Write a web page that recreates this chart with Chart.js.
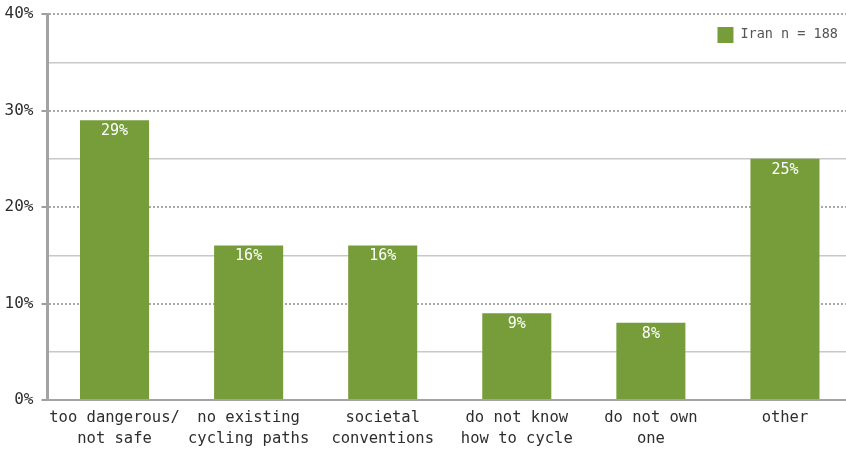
<!DOCTYPE html>
<html lang="en">
<head>
  <meta charset="UTF-8">
  <title>Reasons for not cycling - Iran</title>
  <script src="https://cdn.jsdelivr.net/npm/chart.js"></script>
  <style>
    html, body {
      margin: 0;
      padding: 0;
      background: #fff;
      overflow: hidden;
    }
    #wrap {
      width: 852px;
      height: 449px;
    }
  </style>
</head>
<body>
  <div id="wrap"><canvas id="chart" width="852" height="449"></canvas></div>

  <script>
    const categories = [
      ["too dangerous/", "not safe"],
      ["no existing", "cycling paths"],
      ["societal", "conventions"],
      ["do not know", "how to cycle"],
      ["do not own", "one"],
      ["other"]
    ];
    const seriesName = "Iran n = 188";
    const shares = [29, 16, 16, 9, 8, 25];
    const yTicks = [0, 10, 20, 30, 40];

    const green = "#769d3a";
    const mono = "'DejaVu Sans Mono', monospace";

    // white value labels just inside the top of each bar
    const barLabels = {
      id: "barLabels",
      afterDatasetsDraw(chart) {
        const ctx = chart.ctx;
        const meta = chart.getDatasetMeta(0);
        ctx.save();
        ctx.fillStyle = "#ffffff";
        ctx.font = "15px " + mono;
        ctx.textAlign = "center";
        ctx.textBaseline = "middle";
        meta.data.forEach((bar, i) => {
          ctx.fillText(shares[i] + "%", bar.x, bar.y + 11);
        });
        ctx.restore();
      }
    };

    // legend swatch + text in the top right corner of the plot area
    const cornerLegend = {
      id: "cornerLegend",
      afterDraw(chart) {
        const ctx = chart.ctx;
        const ds = chart.data.datasets[0];
        const area = chart.chartArea;
        ctx.save();
        ctx.font = "13.5px " + mono;
        const w = ctx.measureText(ds.label).width;
        const textX = area.right - 14 - w;
        const midY = area.top + 20.5;
        ctx.fillStyle = ds.backgroundColor;
        ctx.fillRect(textX - 23, midY - 7.5, 16, 16);
        ctx.fillStyle = "#555555";
        ctx.textBaseline = "middle";
        ctx.fillText(ds.label, textX, midY);
        ctx.restore();
      }
    };

    const isMajor = (c) => c.tick && yTicks.includes(c.tick.value);

    new Chart(document.getElementById("chart"), {
      type: "bar",
      data: {
        labels: categories,
        datasets: [{
          label: seriesName,
          data: shares,
          backgroundColor: green,
          borderWidth: 0,
          barPercentage: 0.515,
          categoryPercentage: 1
        }]
      },
      options: {
        responsive: false,
        animation: false,
        layout: { padding: { top: 14, right: 0, left: 0, bottom: 0 } },
        scales: {
          x: {
            afterFit: (s) => { s.height = 49; s.paddingLeft = 0; s.paddingRight = 0; },
            grid: { display: false },
            border: { display: true, color: "#a3a3a3", width: 2 },
            ticks: {
              color: "#2e2e2e",
              font: { family: mono, size: 15.5, lineHeight: 1.33 },
              padding: 0,
              maxRotation: 0,
              autoSkip: false
            }
          },
          y: {
            min: 0,
            max: 40,
            afterFit: (s) => { s.width = 47.5; s.paddingTop = 0; s.paddingBottom = 0; },
            ticks: {
              stepSize: 5,
              color: "#2e2e2e",
              font: { family: mono, size: 16 },
              padding: 8,
              callback: (v) => yTicks.includes(v) ? v + "%" : ""
            },
            grid: {
              color: (c) => {
                if (!c.tick || c.tick.value === 0) return "rgba(0,0,0,0)";
                return isMajor(c) ? "#a8a8a8" : "#c8c8c8";
              },
              lineWidth: (c) => isMajor(c) ? 2 : 1.5,
              tickLength: 6,
              tickWidth: 2,
              tickColor: (c) => isMajor(c) ? "#9e9e9e" : "rgba(0,0,0,0)"
            },
            border: {
              display: true,
              color: "#a3a3a6",
              width: 3,
              dash: (c) => (isMajor(c) && c.tick.value !== 0) ? [2, 2] : []
            }
          }
        },
        plugins: {
          legend: { display: false },
          tooltip: { enabled: false }
        }
      },
      plugins: [barLabels, cornerLegend]
    });
  </script>
</body>
</html>
